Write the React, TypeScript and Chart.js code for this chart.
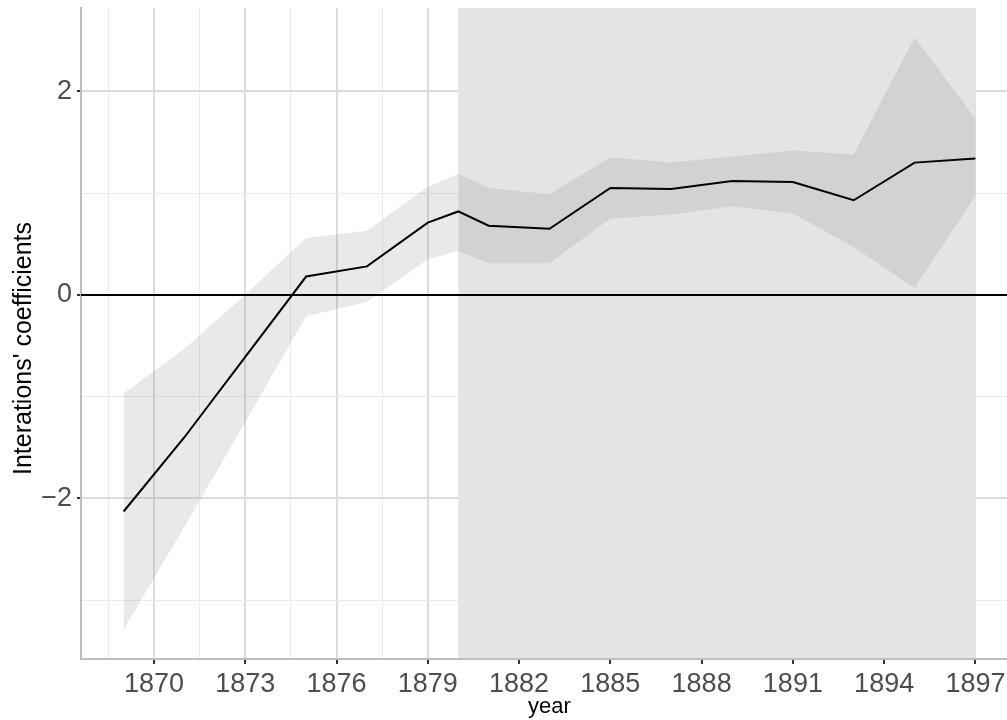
import React, { useEffect, useRef } from 'react';
import { Chart, registerables } from 'chart.js';

Chart.register(...registerables);

// ---- data ----
const years = [1869, 1871, 1873, 1875, 1877, 1879, 1880, 1881, 1883, 1885, 1887, 1889, 1891, 1893, 1895, 1897];
const coefficients = [-2.13, -1.40, -0.61, 0.18, 0.28, 0.71, 0.82, 0.68, 0.65, 1.05, 1.04, 1.12, 1.11, 0.93, 1.30, 1.34];
const upperCI = [-0.97, -0.53, 0.0, 0.56, 0.63, 1.06, 1.19, 1.05, 0.99, 1.35, 1.30, 1.36, 1.42, 1.38, 2.53, 1.73];
const lowerCI = [-3.29, -2.28, -1.25, -0.21, -0.07, 0.35, 0.43, 0.31, 0.31, 0.75, 0.79, 0.87, 0.80, 0.47, 0.07, 0.97];

const xMajorTicks = [1870, 1873, 1876, 1879, 1882, 1885, 1888, 1891, 1894, 1897];
const xMinorTicks = [1868.5, 1871.5, 1874.5, 1877.5, 1880.5, 1883.5, 1886.5, 1889.5, 1892.5, 1895.5];
const yMajorTicks = [-2, 0, 2];
const yMinorTicks = [-3, -1, 1];
const shadedYears = [1880, 1897];
const referenceLineY = 0;
const xLimits = [1867.6, 1898.4];
const yLimits = [-3.58, 2.82];

const xTitle = 'year';
const yTitle = "Interations' coefficients";

const FONT = "'Liberation Sans', Arial, Helvetica, sans-serif";

const near = (a: number, list: number[]) => list.some((v) => Math.abs(v - a) < 1e-6);

const decorPlugin = {
  id: 'decor',
  beforeDatasetsDraw(chart: any) {
    const { ctx, chartArea, scales } = chart;
    const x0 = scales.x.getPixelForValue(shadedYears[0]);
    const x1 = scales.x.getPixelForValue(shadedYears[1]);
    ctx.save();
    ctx.fillStyle = '#E4E4E4';
    ctx.fillRect(x0, chartArea.top, x1 - x0, chartArea.bottom - chartArea.top - 1);
    ctx.restore();
  },
  beforeDatasetDraw(chart: any, args: any) {
    if (args.index !== 0) return;
    const { ctx, chartArea, scales } = chart;
    const y = Math.round(scales.y.getPixelForValue(referenceLineY));
    ctx.save();
    ctx.strokeStyle = '#000000';
    ctx.lineWidth = 2;
    ctx.beginPath();
    ctx.moveTo(chartArea.left, y);
    ctx.lineTo(chartArea.right, y);
    ctx.stroke();
    ctx.restore();
  },
  afterDraw(chart: any) {
    const { ctx, chartArea } = chart;
    const yc = (chartArea.top + chartArea.bottom) / 2 + 15;
    ctx.save();
    ctx.translate(31, yc);
    ctx.rotate(-Math.PI / 2);
    ctx.fillStyle = '#000000';
    ctx.font = `25px ${FONT}`;
    ctx.textAlign = 'center';
    ctx.textBaseline = 'alphabetic';
    ctx.fillText(yTitle, 0, 0);
    ctx.restore();
  },
};

const zeroPadding = (scale: any) => {
  scale.paddingTop = 0;
  scale.paddingBottom = 0;
  scale.paddingLeft = 0;
  scale.paddingRight = 0;
};

export default function App() {
  const canvasRef = useRef<HTMLCanvasElement | null>(null);

  useEffect(() => {
    const canvas = canvasRef.current;
    if (!canvas) return;
    const pts = (vals: number[]) => years.map((x, i) => ({ x, y: vals[i] }));

    const chart = new Chart(canvas, {
      type: 'line',
      data: {
        datasets: [
          {
            label: 'coef',
            data: pts(coefficients),
            borderColor: '#000000',
            borderWidth: 2,
            pointRadius: 0,
            fill: false,
            tension: 0,
          },
          {
            label: 'upper',
            data: pts(upperCI),
            borderWidth: 0,
            borderColor: 'rgba(0,0,0,0)',
            pointRadius: 0,
            backgroundColor: 'rgba(110,110,110,0.15)',
            fill: '+1',
            tension: 0,
          },
          {
            label: 'lower',
            data: pts(lowerCI),
            borderWidth: 0,
            borderColor: 'rgba(0,0,0,0)',
            pointRadius: 0,
            fill: false,
            tension: 0,
          },
        ],
      },
      options: {
        responsive: false,
        animation: false,
        devicePixelRatio: 1,
        layout: { padding: { top: 8, left: 0, right: 0, bottom: 0 } },
        plugins: {
          legend: { display: false },
          tooltip: { enabled: false },
        },
        scales: {
          x: {
            type: 'linear',
            min: xLimits[0],
            max: xLimits[1],
            afterBuildTicks: (scale: any) => {
              scale.ticks = [...xMinorTicks, ...xMajorTicks]
                .sort((a, b) => a - b)
                .map((v) => ({ value: v }));
            },
            afterFit: (scale: any) => {
              scale.height = 61;
              zeroPadding(scale);
            },
            ticks: {
              autoSkip: false,
              maxRotation: 0,
              minRotation: 0,
              padding: 4,
              color: '#4D4D4D',
              font: { family: FONT, size: 27 },
              callback: (v: any) => (near(Number(v), xMajorTicks) ? String(v) : ''),
            },
            grid: {
              color: (c: any) => (c.tick && near(c.tick.value, xMajorTicks) ? '#DCDCDC' : '#EBEBEB'),
              lineWidth: (c: any) => (c.tick && near(c.tick.value, xMajorTicks) ? 2 : 1),
              tickColor: (c: any) => (c.tick && near(c.tick.value, xMajorTicks) ? '#333333' : 'rgba(0,0,0,0)'),
              tickWidth: 2,
              tickLength: 5,
            },
            border: { display: true, color: '#BEBEBE', width: 2 },
            title: {
              display: true,
              text: xTitle,
              color: '#000000',
              font: { family: FONT, size: 22 },
              padding: { top: 0, bottom: 0 },
            },
          },
          y: {
            type: 'linear',
            min: yLimits[0],
            max: yLimits[1],
            afterBuildTicks: (scale: any) => {
              scale.ticks = [...yMinorTicks, ...yMajorTicks]
                .sort((a, b) => a - b)
                .map((v) => ({ value: v }));
            },
            afterFit: (scale: any) => {
              scale.width = 81;
              zeroPadding(scale);
            },
            ticks: {
              autoSkip: false,
              padding: 5,
              color: '#4D4D4D',
              font: { family: FONT, size: 27 },
              callback: (v: any) => {
                const n = Number(v);
                if (!near(n, yMajorTicks)) return '';
                return n < 0 ? '\u2212' + String(Math.abs(n)) : String(n);
              },
            },
            grid: {
              color: (c: any) => (c.tick && near(c.tick.value, yMajorTicks) ? '#DCDCDC' : '#EBEBEB'),
              lineWidth: (c: any) => (c.tick && near(c.tick.value, yMajorTicks) ? 2 : 1),
              tickColor: (c: any) => (c.tick && near(c.tick.value, yMajorTicks) ? '#333333' : 'rgba(0,0,0,0)'),
              tickWidth: 2,
              tickLength: 4,
            },
            border: { display: true, color: '#BEBEBE', width: 2 },
            title: { display: false },
          },
        },
      },
      plugins: [decorPlugin],
    } as any);

    return () => {
      chart.destroy();
    };
  }, []);

  return (
    <div
      style={{
        position: 'fixed',
        left: 0,
        top: 0,
        width: 1007,
        height: 720,
        overflow: 'hidden',
        background: '#FFFFFF',
      }}
    >
      <canvas ref={canvasRef} width={1018} height={720} style={{ display: 'block', width: 1018, height: 720 }} />
    </div>
  );
}
